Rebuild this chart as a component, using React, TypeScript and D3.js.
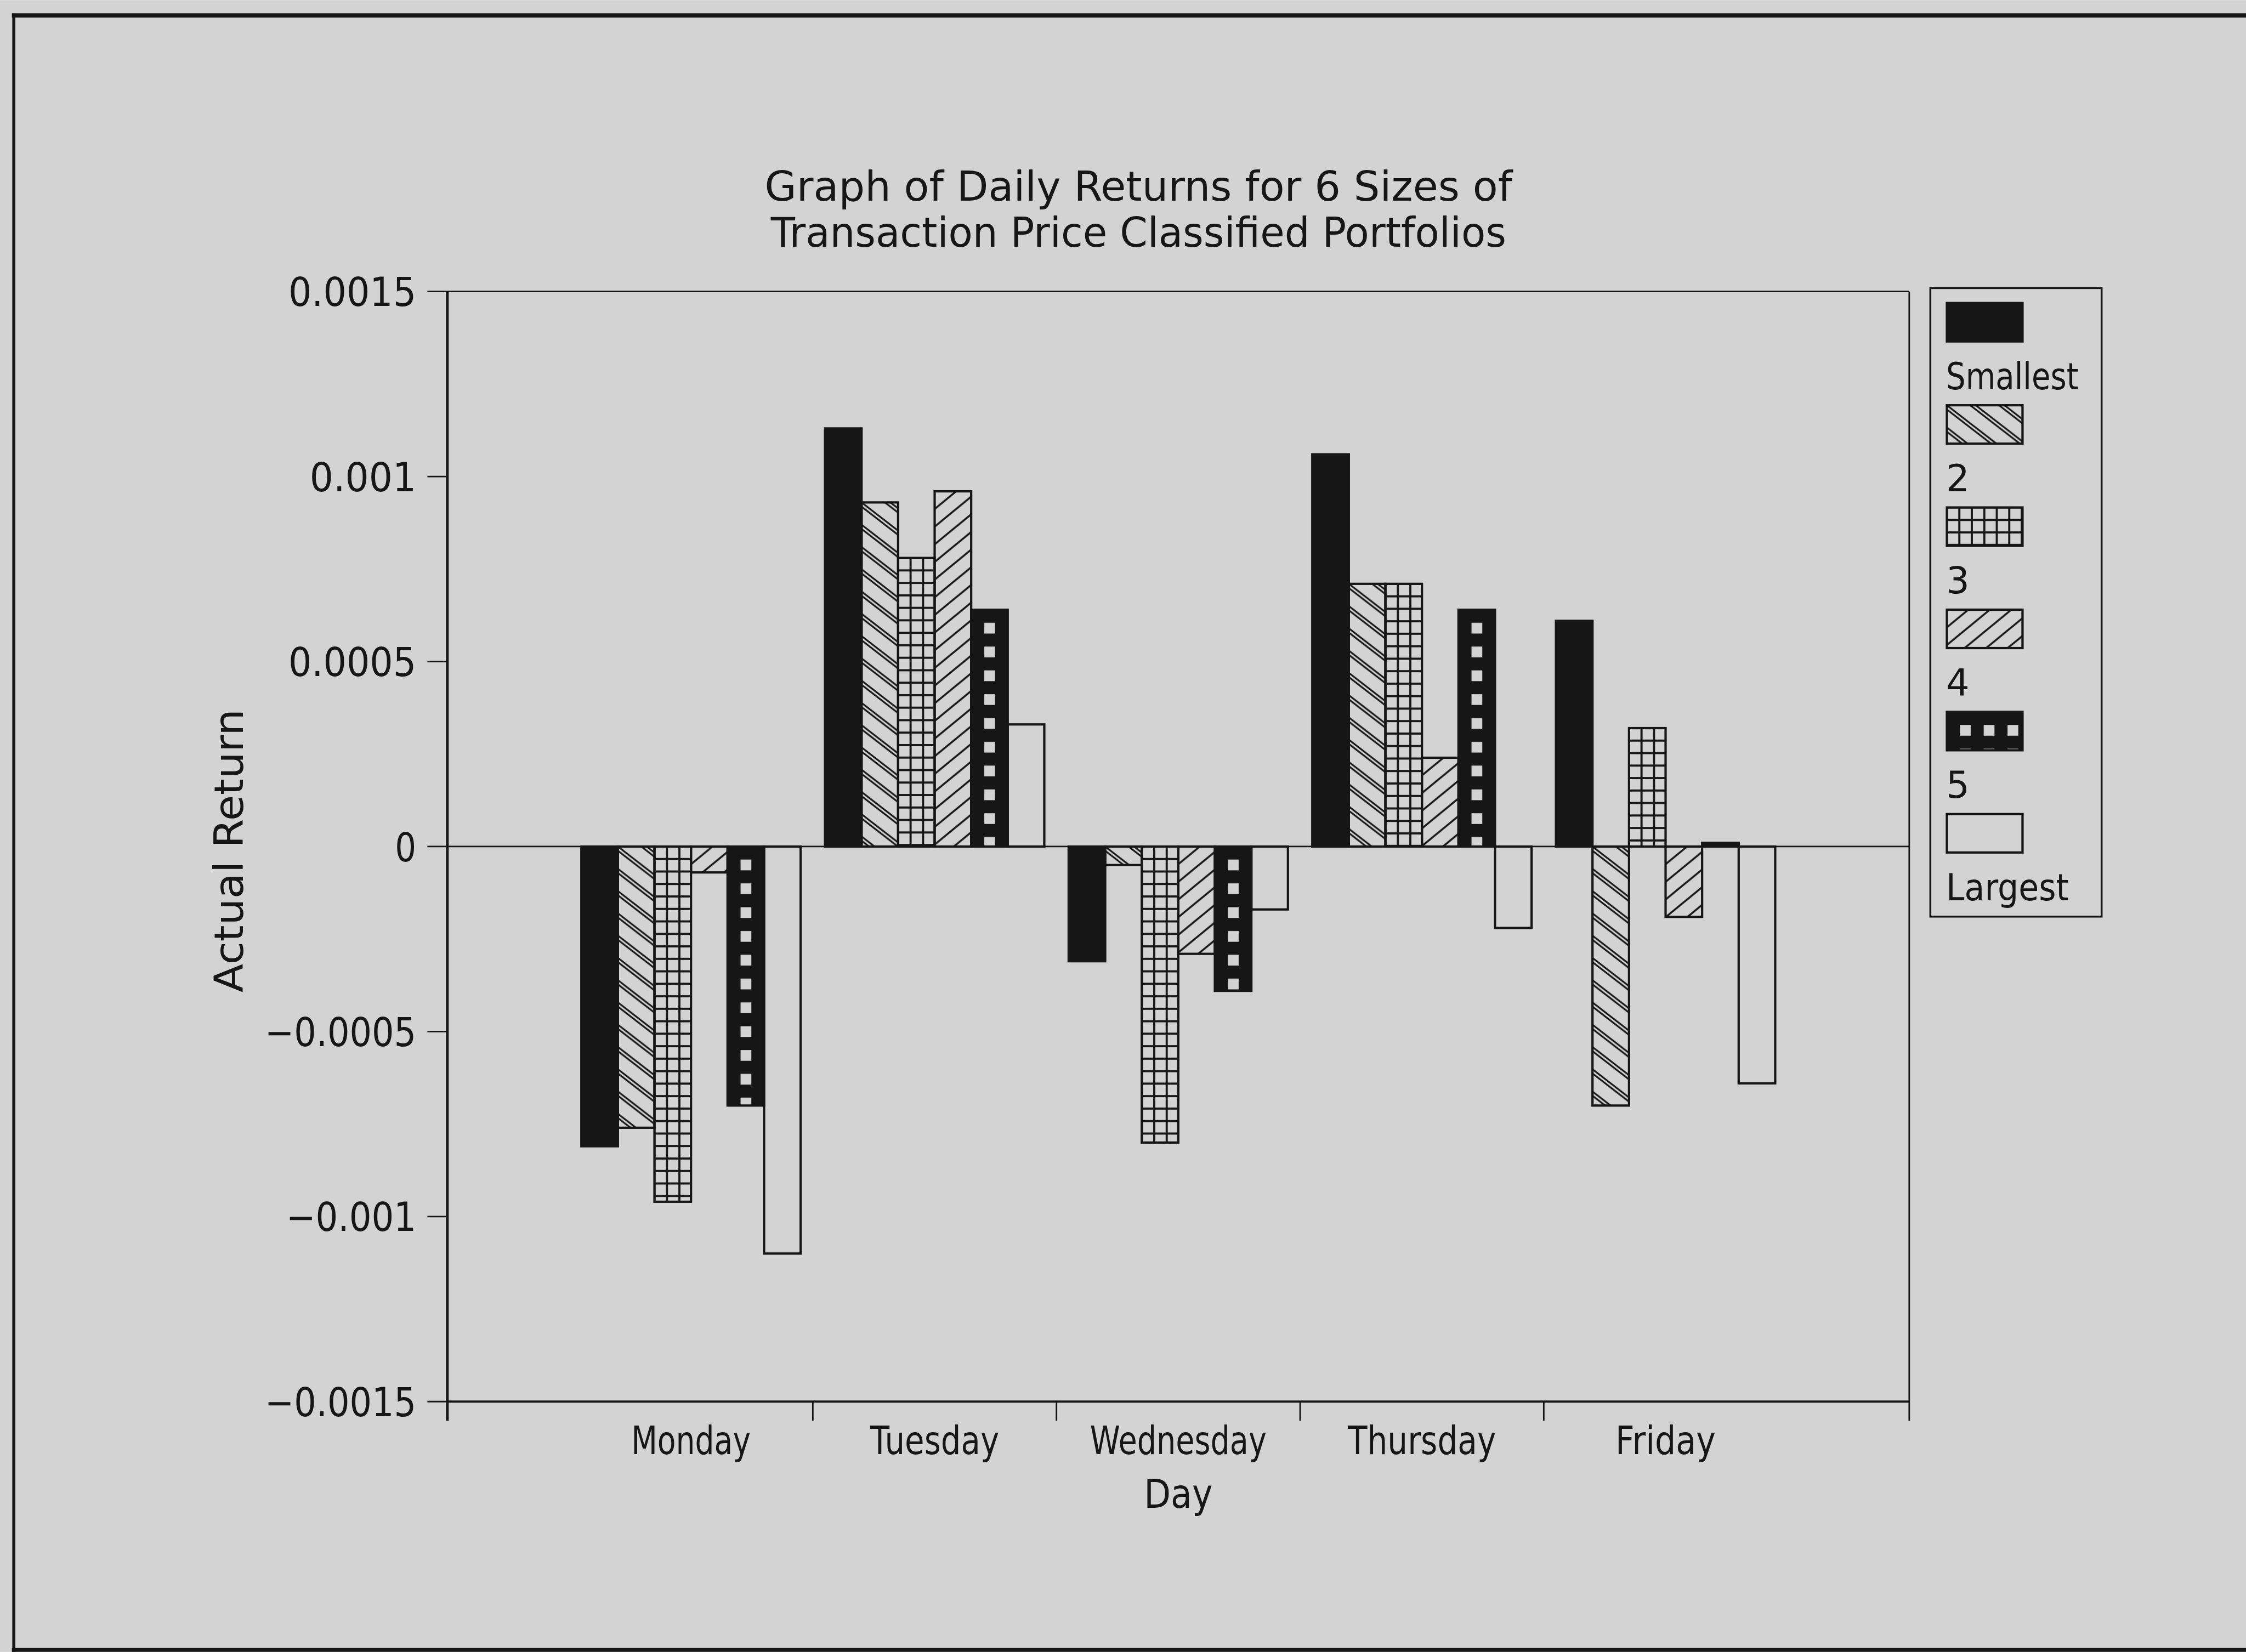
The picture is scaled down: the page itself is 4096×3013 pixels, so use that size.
import React from 'react';
import * as d3 from 'd3';

// ---------- data ----------
const days = ['Monday', 'Tuesday', 'Wednesday', 'Thursday', 'Friday'];
const seriesNames = ['Smallest', '2', '3', '4', '5', 'Largest'];
const smallestReturns = [-0.00081, 0.00113, -0.00031, 0.00106, 0.00061];
const size2Returns = [-0.00076, 0.00093, -0.00005, 0.00071, -0.0007];
const size3Returns = [-0.00096, 0.00078, -0.0008, 0.00071, 0.00032];
const size4Returns = [-0.00007, 0.00096, -0.00029, 0.00024, -0.00019];
const size5Returns = [-0.0007, 0.00064, -0.00039, 0.00064, 0.00001];
const largestReturns = [-0.0011, 0.00033, -0.00017, -0.00022, -0.00064];
const yTickValues = [0.0015, 0.001, 0.0005, 0, -0.0005, -0.001, -0.0015];
const yTickLabels = ['0.0015', '0.001', '0.0005', '0', '\u22120.0005', '\u22120.001', '\u22120.0015'];
const titleLines = ['Graph of Daily Returns for 6 Sizes of', 'Transaction Price Classified Portfolios'];
const xAxisTitle = 'Day';
const yAxisTitle = 'Actual Return';

const seriesValues = [smallestReturns, size2Returns, size3Returns, size4Returns, size5Returns, largestReturns];

// ---------- styles / layout (reference pixel space) ----------
const VW = 5849;
const VH = 4302;
const BG = '#d3d3d3';
const INK = '#161616';
const FONT = '"DejaVu Sans", "Liberation Sans", sans-serif';
const seriesFills = ['solid', 'backHatch', 'grid', 'foreHatch', 'dots', 'empty'];
const plot = { left: 1165, right: 4972, top: 759, bottom: 3650 };
const dayLabelWidths = [311, 336, 460, 386, 261];
const legendLabelWidths = [345, 0, 0, 0, 0, 320];

function PatternDef({ id, kind, x, y }: { id: string; kind: string; x: number; y: number }) {
  if (kind === 'backHatch') {
    const pw = 75, ph = 58;
    const lines = [];
    for (const k of [-1, 0, 1]) {
      for (const off of [0, 11]) {
        const c = k * ph + off;
        lines.push(
          <line key={`${k}-${off}`} x1={-pw} y1={-ph + c} x2={2 * pw} y2={2 * ph + c} stroke={INK} strokeWidth={4.5} />
        );
      }
    }
    return (
      <pattern id={id} patternUnits="userSpaceOnUse" x={x} y={y} width={pw} height={ph}>
        {lines}
      </pattern>
    );
  }
  if (kind === 'foreHatch') {
    const pw = 56, ph = 46;
    const lines = [];
    for (const k of [-1, 0, 1]) {
      const c = (k + 1) * ph;
      lines.push(<line key={k} x1={-pw} y1={ph + c} x2={2 * pw} y2={-2 * ph + c} stroke={INK} strokeWidth={5} />);
    }
    return (
      <pattern id={id} patternUnits="userSpaceOnUse" x={x} y={y} width={pw} height={ph}>
        {lines}
      </pattern>
    );
  }
  if (kind === 'grid') {
    const s = 32.5;
    return (
      <pattern id={id} patternUnits="userSpaceOnUse" x={x} y={y} width={s} height={s}>
        <line x1={0} y1={0} x2={0} y2={s} stroke={INK} strokeWidth={5.5} />
        <line x1={s} y1={0} x2={s} y2={s} stroke={INK} strokeWidth={5.5} />
        <line x1={0} y1={0} x2={s} y2={0} stroke={INK} strokeWidth={5.5} />
        <line x1={0} y1={s} x2={s} y2={s} stroke={INK} strokeWidth={5.5} />
      </pattern>
    );
  }
  if (kind === 'dots') {
    const s = 62;
    return (
      <pattern id={id} patternUnits="userSpaceOnUse" x={x} y={y} width={s} height={s}>
        <rect x={0} y={0} width={s} height={s} fill={INK} />
        <rect x={34} y={34} width={28} height={28} fill={BG} />
      </pattern>
    );
  }
  return null;
}

function fillFor(kind: string, id: string) {
  if (kind === 'solid') return INK;
  if (kind === 'empty') return 'none';
  return `url(#${id})`;
}

export default function App() {
  const y = d3.scaleLinear().domain([-0.0015, 0.0015]).range([plot.bottom, plot.top]);
  const x0 = d3.scaleBand<string>().domain(days).range([plot.left, plot.right]).paddingInner(0).paddingOuter(0.5);
  const step = x0.step();
  const groupPad = step * 0.05;
  const x1 = d3.scaleBand<string>().domain(seriesNames).range([groupPad, step - groupPad]);
  const bw = x1.bandwidth();

  const bars: { id: string; kind: string; x: number; y: number; w: number; h: number }[] = [];
  seriesNames.forEach((s, si) => {
    days.forEach((d, di) => {
      const v = seriesValues[si][di];
      const y0 = y(0);
      const yv = y(v);
      bars.push({
        id: `bar-${si}-${di}`,
        kind: seriesFills[si],
        x: (x0(d) as number) + (x1(s) as number),
        y: Math.min(y0, yv),
        w: bw,
        h: Math.abs(yv - y0),
      });
    });
  });

  const legend = { left: 5027, top: 750, width: 446, height: 1637, swX: 5070, swY: 789, swW: 197, swH: 100, step: 266.2, labelDy: 224 };

  const boundaries = days.slice(1).map((d) => x0(d) as number);
  const plotCenter = (plot.left + plot.right) / 2;
  const yMid = (plot.top + plot.bottom) / 2;

  return (
    <svg
      width={4096}
      height={3013}
      viewBox={`0 0 ${VW} ${VH}`}
      style={{ position: 'absolute', left: 0, top: 0, display: 'block' }}
      fontFamily={FONT}
    >
      <defs>
        {bars.map((b) => (
          <PatternDef key={b.id} id={b.id} kind={b.kind} x={b.x} y={b.y} />
        ))}
        {seriesNames.map((s, i) => (
          <PatternDef
            key={`leg-${i}`}
            id={`leg-${i}`}
            kind={seriesFills[i]}
            x={legend.swX}
            y={legend.swY + i * legend.step}
          />
        ))}
      </defs>
      <rect x={0} y={0} width={VW} height={VH} fill={BG} />

      {/* page frame */}
      <line x1={31} y1={40} x2={VW} y2={40} stroke={INK} strokeWidth={11} />
      <line x1={36} y1={35} x2={36} y2={VH} stroke={INK} strokeWidth={8} />
      <line x1={31} y1={4297} x2={VW} y2={4297} stroke={INK} strokeWidth={10} />

      {/* title */}
      {titleLines.map((t, i) => (
        <text
          key={t}
          x={2965}
          y={523 + i * 119}
          fontSize={107}
          textAnchor="middle"
          textLength={i === 0 ? 1947 : 1915}
          lengthAdjust="spacingAndGlyphs"
          fill={INK}
        >
          {t}
        </text>
      ))}

      {/* bars */}
      {bars.map((b) => (
        <rect
          key={b.id}
          x={b.x}
          y={b.y}
          width={b.w}
          height={Math.max(b.h, 1)}
          fill={fillFor(b.kind, b.id)}
          stroke={INK}
          strokeWidth={6}
        />
      ))}

      {/* plot frame */}
      <line x1={plot.left} y1={plot.top} x2={plot.right} y2={plot.top} stroke={INK} strokeWidth={4} />
      <line x1={plot.right} y1={plot.top} x2={plot.right} y2={plot.bottom + 50} stroke={INK} strokeWidth={4} />
      <line x1={plot.left} y1={plot.bottom} x2={plot.right} y2={plot.bottom} stroke={INK} strokeWidth={6} />
      <line x1={plot.left} y1={plot.top} x2={plot.left} y2={plot.bottom + 50} stroke={INK} strokeWidth={7} />
      <line x1={plot.left} y1={y(0)} x2={plot.right} y2={y(0)} stroke={INK} strokeWidth={4} />

      {/* y ticks */}
      {yTickValues.map((v, i) => (
        <g key={`yt-${i}`}>
          <line x1={plot.left - 52} y1={y(v)} x2={plot.left} y2={y(v)} stroke={INK} strokeWidth={4} />
          <text
            x={1084}
            y={y(v) + 38}
            fontSize={103}
            textAnchor="end"
            textLength={yTickLabels[i].length * 55.5 + (yTickLabels[i].startsWith('\u2212') ? 6 : 0)}
            lengthAdjust="spacingAndGlyphs"
            fill={INK}
          >
            {yTickLabels[i]}
          </text>
        </g>
      ))}

      {/* x ticks */}
      {boundaries.map((bx, i) => (
        <line key={`xt-${i}`} x1={bx} y1={plot.bottom} x2={bx} y2={plot.bottom + 50} stroke={INK} strokeWidth={4} />
      ))}
      {days.map((d, i) => (
        <text
          key={d}
          x={(x0(d) as number) + step / 2}
          y={3787}
          fontSize={101}
          textAnchor="middle"
          textLength={dayLabelWidths[i]}
          lengthAdjust="spacingAndGlyphs"
          fill={INK}
        >
          {d}
        </text>
      ))}

      {/* axis titles */}
      <text x={plotCenter} y={3927} fontSize={105} textAnchor="middle" textLength={179} lengthAdjust="spacingAndGlyphs" fill={INK}>
        {xAxisTitle}
      </text>
      <text
        transform={`translate(632, ${yMid + 11}) rotate(-90)`}
        x={0}
        y={0}
        fontSize={105}
        textAnchor="middle"
        textLength={738}
        lengthAdjust="spacingAndGlyphs"
        fill={INK}
      >
        {yAxisTitle}
      </text>

      {/* legend */}
      <rect x={legend.left} y={legend.top} width={legend.width} height={legend.height} fill="none" stroke={INK} strokeWidth={5} />
      {seriesNames.map((s, i) => {
        const sy = legend.swY + i * legend.step;
        const lw = legendLabelWidths[i];
        return (
          <g key={`lg-${s}`}>
            <rect
              x={legend.swX}
              y={sy}
              width={legend.swW}
              height={legend.swH}
              fill={fillFor(seriesFills[i], `leg-${i}`)}
              stroke={INK}
              strokeWidth={6}
            />
            <text
              x={legend.swX - 2}
              y={sy + legend.labelDy}
              fontSize={96}
              fill={INK}
              {...(lw ? { textLength: lw, lengthAdjust: 'spacingAndGlyphs' } : {})}
            >
              {s}
            </text>
          </g>
        );
      })}
    </svg>
  );
}
